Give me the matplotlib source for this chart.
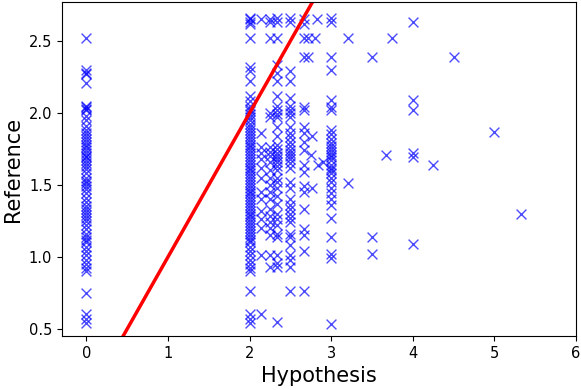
# -*- coding: utf-8 -*-

import numpy as np
import matplotlib
matplotlib.use('Agg')
import matplotlib.pyplot as plt


# reference scores, grouped by hypothesis score
ref_h0 = [2.52, 2.30, 2.28, 2.27, 2.21, 2.05, 2.04, 2.03, 2.02, 1.98, 1.95, 1.91, 1.88,
          1.86, 1.84, 1.82, 1.80, 1.78, 1.76, 1.74, 1.72, 1.70, 1.69, 1.67, 1.65, 1.63,
          1.61, 1.58, 1.55, 1.53, 1.51, 1.49, 1.47, 1.44, 1.41, 1.38, 1.35, 1.33, 1.31,
          1.29, 1.27, 1.25, 1.22, 1.19, 1.16, 1.14, 1.12, 1.10, 1.07, 1.04, 1.01, 0.98,
          0.95, 0.92, 0.90, 0.75, 0.60, 0.57, 0.54]
ref_h2 = [2.66, 2.65, 2.63, 2.62, 2.52, 2.32, 2.29, 2.22, 2.12, 2.08, 2.05, 2.03, 2.01,
          1.99, 1.97, 1.95, 1.92, 1.90, 1.88, 1.86, 1.84, 1.82, 1.80, 1.78, 1.76, 1.74,
          1.72, 1.70, 1.68, 1.66, 1.64, 1.62, 1.60, 1.58, 1.56, 1.54, 1.52, 1.50, 1.48,
          1.46, 1.44, 1.42, 1.40, 1.38, 1.36, 1.34, 1.32, 1.30, 1.28, 1.26, 1.24, 1.22,
          1.20, 1.18, 1.16, 1.14, 1.12, 1.10, 1.07, 1.04, 1.01, 0.98, 0.95, 0.92, 0.90,
          0.76, 0.60, 0.57, 0.54]
ref_h214 = [2.65, 1.86, 1.76, 1.72, 1.68, 1.62, 1.55, 1.45, 1.40, 1.32, 1.26, 1.20,
            1.01, 0.60]
ref_h225 = [2.65, 2.63, 2.52, 2.00, 1.97, 1.76, 1.73, 1.70, 1.66, 1.60, 1.55, 1.50,
            1.45, 1.40, 1.33, 1.28, 1.24, 1.20, 1.15, 1.01, 0.93]
ref_h233 = [2.66, 2.63, 2.52, 2.33, 2.28, 2.22, 2.12, 2.05, 2.02, 1.99, 1.97, 1.90,
            1.84, 1.78, 1.75, 1.72, 1.70, 1.68, 1.66, 1.63, 1.60, 1.55, 1.52, 1.48,
            1.42, 1.37, 1.30, 1.26, 1.22, 1.16, 1.14, 1.01, 0.96, 0.93, 0.55]
ref_h25 = [2.66, 2.63, 2.29, 2.22, 2.10, 2.05, 2.02, 2.00, 1.97, 1.90, 1.86, 1.83,
           1.80, 1.77, 1.74, 1.72, 1.70, 1.68, 1.65, 1.62, 1.52, 1.48, 1.40, 1.36,
           1.33, 1.30, 1.27, 1.24, 1.16, 1.14, 1.08, 1.01, 0.98, 0.93, 0.76]
ref_h267 = [2.65, 2.62, 2.52, 2.39, 2.04, 2.02, 1.90, 1.86, 1.80, 1.74, 1.64, 1.59,
            1.49, 1.45, 1.33, 1.19, 1.15, 1.04, 0.76]
ref_h3 = [2.66, 2.63, 2.39, 2.30, 2.09, 2.04, 2.02, 1.88, 1.85, 1.82, 1.79, 1.77,
          1.75, 1.73, 1.71, 1.69, 1.67, 1.64, 1.62, 1.60, 1.58, 1.55, 1.52, 1.48,
          1.44, 1.40, 1.36, 1.27, 1.14, 1.02, 0.99, 0.53]

# scattered single points (hypothesis, reference)
hyp_other = [2.76, 2.80, 2.82, 2.75, 2.84, 2.90, 2.77, 2.72, 2.72, 3.2, 3.75, 3.5,
             4.5, 4.0, 4.0, 4.0, 5.0, 4.0, 4.0, 3.67, 4.25, 3.2, 5.33, 3.5, 3.5, 4.0]
ref_other = [1.84, 2.52, 2.65, 1.71, 1.64, 1.66, 1.48, 2.39, 2.52, 2.52, 2.52, 2.39,
             2.39, 2.63, 2.09, 2.02, 1.87, 1.72, 1.69, 1.71, 1.64, 1.51, 1.30, 1.14,
             1.02, 1.09]

groups = [(0.0, ref_h0), (2.0, ref_h2), (2.14, ref_h214), (2.25, ref_h225),
          (7 / 3, ref_h233), (2.5, ref_h25), (8 / 3, ref_h267), (3.0, ref_h3)]

hyp = []
ref = []
for h, r in groups:
    hyp += [h] * len(r)
    ref += r
hyp = np.array(hyp + hyp_other)
ref = np.array(ref + ref_other)

fig = plt.figure(figsize=(5.81, 3.90), dpi=100)
ax = fig.add_axes([0.1067, 0.1385, 0.8847, 0.8564])
ax.scatter(hyp, ref, marker='x', color='blue', alpha=0.7, s=50, linewidths=1)
ax.axline((0, 0), slope=1, color='red', linewidth=2.5)
ax.set_xlim(-0.3, 6)
ax.set_ylim(0.45, 2.77)
ax.set_xticks([0, 1, 2, 3, 4, 5, 6])
ax.set_yticks([0.5, 1.0, 1.5, 2.0, 2.5])
ax.tick_params(labelsize=10.5)
ax.set_xlabel('Hypothesis', fontsize=15)
ax.set_ylabel('Reference', fontsize=15)
fig.savefig('out.png', dpi=100)
